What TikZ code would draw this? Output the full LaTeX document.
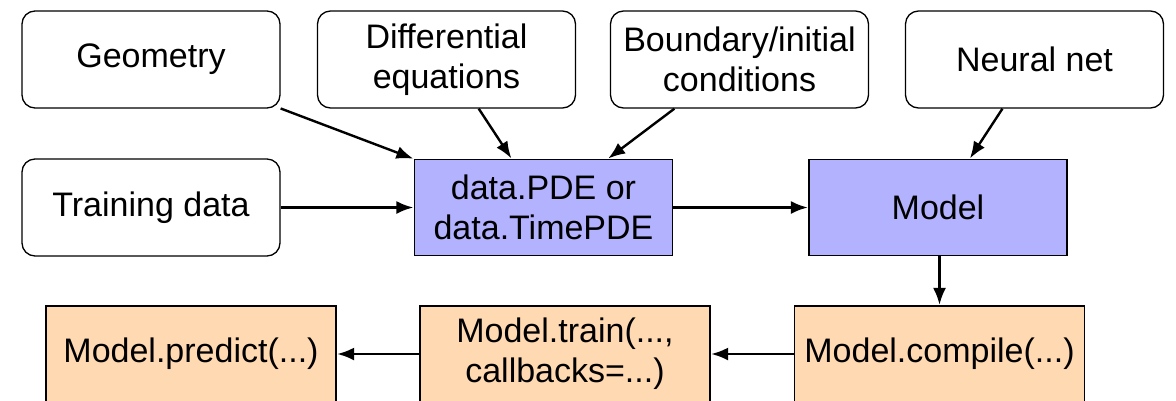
\documentclass[tikz,border=0pt]{standalone}
\usepackage{fontspec}
\setmainfont{Liberation Sans}
\usetikzlibrary{arrows.meta}
\tikzset{
  base/.style={draw=black, line width=1.3pt, minimum width=258pt, minimum height=97pt, inner sep=0pt, align=center, font=\fontsize{34}{40}\selectfont},
  inbox/.style={base, rounded corners=13pt, fill=white},
  bluebox/.style={base, fill=blue!30, minimum width=258pt, minimum height=96pt},
  orbox/.style={base, fill=orange!30, minimum width=290pt, minimum height=96pt},
  arr/.style={-{Latex[length=17pt,width=13pt]}, line width=2.4pt, shorten >=0.5pt},
}
\begin{document}
\begin{tikzpicture}[x=1pt,y=-1pt]
\useasboundingbox (0,0) rectangle (1176,400);
\node[inbox] (geo) at (151,59.5) {Geometry};
\node[inbox] (de) at (446.5,59.5) {Differential\\equations};
\node[inbox] (bc) at (739.5,59.5) {Boundary/initial\\conditions};
\node[inbox] (nn) at (1034.5,59.5) {Neural net};
\node[inbox] (td) at (151,207.5) {Training data};
\node[bluebox] (pde) at (543.5,207.5) {data.PDE or\\data.TimePDE};
\node[bluebox] (model) at (938,207.5) {Model};
\node[orbox] (predict) at (191,354) {Model.predict(...)};
\node[orbox] (train) at (565,354) {Model.train(...,\\callbacks=...)};
\node[orbox] (compile) at (939.5,354) {Model.compile(...)};
\draw[arr] (geo) -- (pde);
\draw[arr] (de) -- (pde);
\draw[arr] (bc) -- (pde);
\draw[arr] (nn) -- (model);
\draw[arr] (td) -- (pde);
\draw[arr] (pde) -- (model);
\draw[arr] (model.south -| compile.north) -- (compile.north);
\draw[arr] (compile) -- (train);
\draw[arr] (train) -- (predict);
\end{tikzpicture}
\end{document}
